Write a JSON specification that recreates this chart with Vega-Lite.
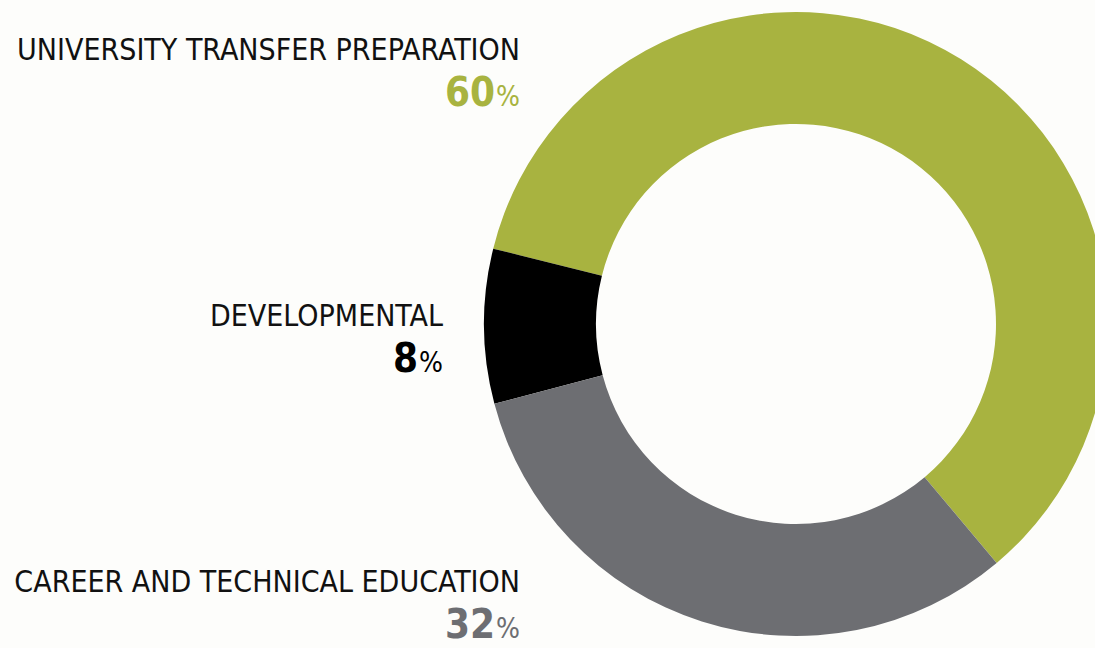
{
  "$schema": "https://vega.github.io/schema/vega-lite/v6.json",
  "width": 1095,
  "height": 648,
  "autosize": "none",
  "padding": 0,
  "background": "#fdfdfb",
  "view": {"stroke": null},
  "data": {"values": [
    {"category": "University Transfer Preparation", "label": "UNIVERSITY TRANSFER PREPARATION", "value": 60},
    {"category": "Developmental", "label": "DEVELOPMENTAL", "value": 8},
    {"category": "Career and Technical Education", "label": "CAREER AND TECHNICAL EDUCATION", "value": 32}
  ]},
  "layer": [
    {
      "mark": {"type": "arc", "innerRadius": 200, "outerRadius": 312},
      "encoding": {
        "theta": {"field": "value", "type": "quantitative", "stack": true, "scale": {"range": [2.443, 8.726]}},
        "color": {"field": "category", "type": "nominal", "scale": {"domain": ["Career and Technical Education", "Developmental", "University Transfer Preparation"], "range": ["#6d6e72", "#000000", "#a8b340"]}, "legend": null},
        "x": {"value": 796},
        "y": {"value": 324}
      }
    },
    {
      "transform": [{"filter": "datum.category !== 'Developmental'"}],
      "mark": {"type": "text", "align": "right", "baseline": "alphabetic", "font": "DejaVu Sans Condensed", "fontSize": 30, "color": "#111111"},
      "encoding": {
        "text": {"field": "label"},
        "x": {"value": 520},
        "y": {"field": "category", "type": "nominal", "sort": ["University Transfer Preparation", "Developmental", "Career and Technical Education"], "scale": {"type": "point", "range": [60, 592], "padding": 0}, "axis": null}
      }
    },
    {
      "transform": [{"filter": "datum.category === 'Developmental'"}],
      "mark": {"type": "text", "align": "right", "baseline": "alphabetic", "font": "DejaVu Sans Condensed", "fontSize": 30, "color": "#111111"},
      "encoding": {
        "text": {"field": "label"},
        "x": {"value": 443},
        "y": {"field": "category", "type": "nominal", "sort": ["University Transfer Preparation", "Developmental", "Career and Technical Education"], "axis": null}
      }
    },
    {
      "transform": [{"filter": "datum.category !== 'Developmental'"}],
      "mark": {"type": "text", "align": "right", "baseline": "alphabetic", "font": "DejaVu Sans Condensed", "fontSize": 40, "fontWeight": "bold", "dy": 46, "dx": -25},
      "encoding": {
        "text": {"field": "value", "type": "quantitative"},
        "x": {"value": 520},
        "y": {"field": "category", "type": "nominal", "sort": ["University Transfer Preparation", "Developmental", "Career and Technical Education"], "axis": null},
        "color": {"field": "category", "type": "nominal", "legend": null}
      }
    },
    {
      "transform": [{"filter": "datum.category === 'Developmental'"}],
      "mark": {"type": "text", "align": "right", "baseline": "alphabetic", "font": "DejaVu Sans Condensed", "fontSize": 40, "fontWeight": "bold", "dy": 46, "dx": -25},
      "encoding": {
        "text": {"field": "value", "type": "quantitative"},
        "x": {"value": 443},
        "y": {"field": "category", "type": "nominal", "sort": ["University Transfer Preparation", "Developmental", "Career and Technical Education"], "axis": null},
        "color": {"field": "category", "type": "nominal", "legend": null}
      }
    },
    {
      "transform": [{"filter": "datum.category !== 'Developmental'"}],
      "mark": {"type": "text", "align": "right", "baseline": "alphabetic", "font": "DejaVu Sans Condensed", "fontSize": 28, "dy": 46, "text": "%"},
      "encoding": {
        "x": {"value": 520},
        "y": {"field": "category", "type": "nominal", "sort": ["University Transfer Preparation", "Developmental", "Career and Technical Education"], "axis": null},
        "color": {"field": "category", "type": "nominal", "legend": null}
      }
    },
    {
      "transform": [{"filter": "datum.category === 'Developmental'"}],
      "mark": {"type": "text", "align": "right", "baseline": "alphabetic", "font": "DejaVu Sans Condensed", "fontSize": 28, "dy": 46, "text": "%"},
      "encoding": {
        "x": {"value": 443},
        "y": {"field": "category", "type": "nominal", "sort": ["University Transfer Preparation", "Developmental", "Career and Technical Education"], "axis": null},
        "color": {"field": "category", "type": "nominal", "legend": null}
      }
    }
  ]
}
